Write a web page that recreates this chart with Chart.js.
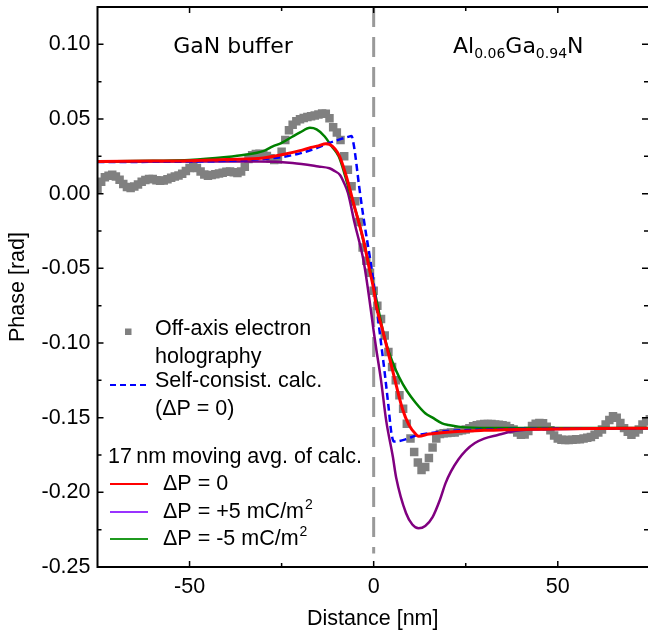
<!DOCTYPE html>
<html lang="en">
<head>
  <meta charset="UTF-8">
  <title>Phase profile across GaN buffer / AlGaN</title>
  <script src="https://cdn.jsdelivr.net/npm/chart.js"></script>
  <style>
    html, body { margin: 0; padding: 0; background: #fff; }
    #phaseChart { display: block; }
  </style>
</head>
<body>
  <canvas id="phaseChart" width="654" height="635"></canvas>
  <script>
    // Off-axis electron holography (measured)
    const holoX = [
      -75, -74, -73, -72, -71, -70, -69, -68, -67, -66,
      -65, -64, -63, -62, -61, -60, -59, -58, -57, -56,
      -55, -54, -53, -52, -51, -50, -49, -48, -47, -46,
      -45, -44, -43, -42, -41, -40, -39, -38, -37, -36,
      -35, -34, -33, -32, -31, -30, -29, -28, -27, -26,
      -25, -24, -23, -22, -21, -20, -19, -18, -17, -16,
      -15, -14, -13, -12, -11, -10, -9, -8, -7, -6,
      -5, -4, -3, -2, -1, 0, 1, 2, 3, 4,
      5, 6, 7, 8, 9, 10, 11, 12, 13, 14,
      15, 16, 17, 18, 19, 20, 21, 22, 23, 24,
      25, 26, 27, 28, 29, 30, 31, 32, 33, 34,
      35, 36, 37, 38, 39, 40, 41, 42, 43, 44,
      45, 46, 47, 48, 49, 50, 51, 52, 53, 54,
      55, 56, 57, 58, 59, 60, 61, 62, 63, 64,
      65, 66, 67, 68, 69, 70, 71, 72, 73, 74, 75
    ];
    const holoY = [
      0.003, 0.008, 0.011, 0.012, 0.0127, 0.0115, 0.0093, 0.0065, 0.0045, 0.0038,
      0.0048, 0.0062, 0.008, 0.0092, 0.0099, 0.0098, 0.009, 0.0087, 0.0088, 0.0097,
      0.0107, 0.0115, 0.0122, 0.0133, 0.0152, 0.0172, 0.0183, 0.0172, 0.0148, 0.0128,
      0.012, 0.0125, 0.013, 0.0135, 0.014, 0.0146, 0.0148, 0.0143, 0.0138, 0.0148,
      0.018, 0.0232, 0.0258, 0.0266, 0.0267, 0.0262, 0.0252, 0.0237, 0.0225, 0.0228,
      0.028, 0.036, 0.0425, 0.0462, 0.0485, 0.0498, 0.0507, 0.0513, 0.0518, 0.0524,
      0.053, 0.0537, 0.0535, 0.0505, 0.0445, 0.041, 0.036, 0.025, 0.016, 0.005,
      -0.005, -0.019, -0.036, -0.045, -0.053, -0.065, -0.075, -0.084, -0.095, -0.106,
      -0.116, -0.125, -0.135, -0.144, -0.154, -0.164, -0.173, -0.180, -0.185, -0.183,
      -0.177, -0.170, -0.164, -0.161, -0.1605, -0.1602, -0.160, -0.160, -0.159, -0.1585,
      -0.158, -0.157, -0.1558, -0.155, -0.1545, -0.1543, -0.1542, -0.1542, -0.1545, -0.1548,
      -0.155, -0.1555, -0.157, -0.158, -0.160, -0.1615, -0.1612, -0.159, -0.1555, -0.154,
      -0.1535, -0.1538, -0.156, -0.1585, -0.162, -0.164, -0.1648, -0.165, -0.165, -0.1648,
      -0.1645, -0.1645, -0.164, -0.1635, -0.163, -0.1615, -0.160, -0.158, -0.1545, -0.1515,
      -0.149, -0.150, -0.1535, -0.157, -0.1595, -0.1615, -0.160, -0.158, -0.1545, -0.1525, -0.151
    ];

    // Self-consistent calculation (dP = 0)
    const calcX = [-75, -50, -40, -30, -25, -20, -15, -12, -9, -7, -6, -5.5, -5, -4.5, -4, -3, -2, -1, 0, 1, 2, 3, 4, 4.8, 5.5, 8.7, 11.4, 15, 20, 30, 50, 75];
    const calcY = [0.0212, 0.0215, 0.022, 0.0232, 0.0245, 0.027, 0.031, 0.034, 0.0365, 0.038, 0.0386, 0.034, 0.026, 0.016, 0.006, -0.012, -0.028, -0.043, -0.060, -0.080, -0.100, -0.120, -0.142, -0.160, -0.166, -0.1645, -0.162, -0.1605, -0.159, -0.158, -0.1573, -0.157];

    // 17 nm moving average, dP = 0
    const avg0X = [-75, -60, -50, -40, -30, -25, -20, -17, -15, -13, -12, -10.5, -9.2, -7.4, -5.2, -2.8, -1.2, 0, 0.7, 2.5, 4.3, 6.1, 7.8, 9.6, 11.4, 12.2, 15, 20, 30, 43, 60, 75];
    const avg0Y = [0.0215, 0.0218, 0.022, 0.0228, 0.0239, 0.026, 0.0288, 0.031, 0.032, 0.0335, 0.033, 0.030, 0.0247, 0.0113, -0.0089, -0.0309, -0.050, -0.064, -0.075, -0.092, -0.110, -0.128, -0.144, -0.155, -0.161, -0.1625, -0.161, -0.1597, -0.1585, -0.1577, -0.1572, -0.157];

    // 17 nm moving average, dP = +5 mC/m2
    const avgPlusX = [-75, -50, -31, -22, -15, -12, -10.5, -9.2, -8, -7, -5.2, -2.8, -1.2, 0, 0.7, 2, 3.4, 5.2, 6.1, 8.8, 10.5, 12.2, 14, 16, 18, 19.5, 21, 23, 25, 27.5, 30, 33.7, 37.3, 43, 56, 75];
    const avgPlusY = [0.0213, 0.0215, 0.0215, 0.0205, 0.0182, 0.017, 0.015, 0.0127, 0.007, 0.0006, -0.0195, -0.0443, -0.070, -0.092, -0.104, -0.125, -0.152, -0.176, -0.19, -0.214, -0.2215, -0.224, -0.2225, -0.2166, -0.205, -0.194, -0.186, -0.178, -0.172, -0.167, -0.164, -0.1616, -0.1594, -0.158, -0.1575, -0.157];

    // 17 nm moving average, dP = -5 mC/m2
    const avgMinusX = [-75, -60, -50, -40, -35, -30, -27.4, -25, -22, -20, -17.3, -15.5, -13.3, -11.5, -9.5, -8, -6.5, -4.2, -2, 0, 1.5, 2.8, 5, 6.9, 9, 11.4, 14, 16, 18.6, 20.3, 23, 25, 33.7, 75];
    const avgMinusY = [0.0215, 0.022, 0.0225, 0.0245, 0.026, 0.0285, 0.0316, 0.034, 0.0383, 0.041, 0.0441, 0.043, 0.0383, 0.032, 0.025, 0.014, 0.001, -0.0175, -0.0396, -0.062, -0.080, -0.095, -0.112, -0.1228, -0.132, -0.140, -0.147, -0.150, -0.1538, -0.1549, -0.156, -0.1565, -0.157, -0.157];

    // interface marker
    const interfaceX = [0, 0];
    const interfaceY = [0.125, -0.241];

    const xTicks = [-50, 0, 50];
    const xMinor = [-25, 25];
    const yTicks = [-0.25, -0.20, -0.15, -0.10, -0.05, 0.00, 0.05, 0.10];
    const yMinor = [-0.225, -0.175, -0.125, -0.075, -0.025, 0.025, 0.075];

    const pts = (xs, ys) => xs.map((v, i) => ({ x: v, y: ys[i] }));

    const ARIAL = '"Liberation Sans", Arial, sans-serif';
    const DEJAVU = '"DejaVu Sans", Verdana, sans-serif';

    // axes frame, inward ticks, titles, region labels, legend
    const decor = {
      id: 'decor',
      afterDraw(chart) {
        const { ctx, chartArea: a, scales: { x, y } } = chart;
        ctx.save();
        ctx.strokeStyle = '#000';
        ctx.lineWidth = 2;
        ctx.beginPath();
        ctx.moveTo(a.right, a.top); ctx.lineTo(a.left, a.top);
        ctx.lineTo(a.left, a.bottom); ctx.lineTo(a.right, a.bottom);
        ctx.stroke();

        ctx.lineWidth = 1.5;
        ctx.beginPath();
        const xt = (v, len) => {
          const px = x.getPixelForValue(v);
          ctx.moveTo(px, a.bottom); ctx.lineTo(px, a.bottom - len);
          ctx.moveTo(px, a.top); ctx.lineTo(px, a.top + len);
        };
        const yt = (v, len) => {
          const py = y.getPixelForValue(v);
          ctx.moveTo(a.left, py); ctx.lineTo(a.left + len, py);
          ctx.moveTo(a.right, py); ctx.lineTo(a.right - len, py);
        };
        xTicks.forEach(v => xt(v, 6));
        xMinor.forEach(v => xt(v, 4));
        yTicks.forEach(v => yt(v, 6));
        yMinor.forEach(v => yt(v, 4));
        ctx.stroke();

        // axis titles
        ctx.fillStyle = '#000';
        ctx.font = '21.5px ' + ARIAL;
        ctx.textAlign = 'center';
        ctx.textBaseline = 'middle';
        ctx.fillText('Distance [nm]', (a.left + a.right) / 2, 619);
        ctx.save();
        ctx.translate(18, (a.top + a.bottom) / 2);
        ctx.rotate(-Math.PI / 2);
        ctx.fillText('Phase [rad]', 0, 0);
        ctx.restore();

        // region labels
        ctx.textBaseline = 'alphabetic';
        ctx.font = '22px ' + DEJAVU;
        ctx.fillText('GaN buffer', 233, 53);
        ctx.textAlign = 'left';
        let cx = 453;
        const part = (t, size, base) => {
          ctx.font = size + 'px ' + DEJAVU;
          ctx.fillText(t, cx, base);
          cx += ctx.measureText(t).width;
        };
        part('Al', 22, 53); part('0.06', 14, 58);
        part('Ga', 22, 53); part('0.94', 14, 58);
        part('N', 22, 53);

        // legend
        ctx.font = '21.5px ' + ARIAL;
        ctx.textBaseline = 'middle';
        ctx.fillStyle = '#808080';
        ctx.fillRect(125, 328.5, 6.5, 6.5);
        ctx.fillStyle = '#000';
        ctx.fillText('Off-axis electron', 155, 329);
        ctx.fillText('holography', 155, 357);
        ctx.fillText('Self-consist. calc.', 155, 381);
        ctx.fillText('(\u0394P = 0)', 155, 409);
        ctx.fillText('17\u2009nm moving avg. of calc.', 108, 457);

        ctx.lineWidth = 2;
        ctx.strokeStyle = '#0000ff';
        ctx.setLineDash([6, 4]);
        ctx.beginPath(); ctx.moveTo(110, 385); ctx.lineTo(146, 385); ctx.stroke();
        ctx.setLineDash([]);

        const item = (col, yy, txt, sup) => {
          ctx.strokeStyle = col;
          ctx.lineWidth = 2;
          ctx.beginPath(); ctx.moveTo(110, yy); ctx.lineTo(148, yy); ctx.stroke();
          ctx.font = '21.5px ' + ARIAL;
          ctx.fillStyle = '#000';
          ctx.fillText(txt, 163, yy);
          if (sup) {
            const w = ctx.measureText(txt).width;
            ctx.font = '14px ' + ARIAL;
            ctx.fillText(sup, 163 + w + 1, yy - 7);
          }
        };
        item('#ff0000', 484, '\u0394P = 0');
        item('#9933ff', 512, '\u0394P = +5 mC/m', '2');
        item('#1f9a1f', 539, '\u0394P = -5 mC/m', '2');
        ctx.restore();
      }
    };

    const ctx = document.getElementById('phaseChart').getContext('2d');
    const phaseChart = new Chart(ctx, {
      type: 'line',
      data: {
        datasets: [
          {
            label: '17 nm moving avg., dP = 0',
            data: pts(avg0X, avg0Y),
            borderColor: '#ff0000',
            borderWidth: 3,
            cubicInterpolationMode: 'monotone',
            pointRadius: 0,
            order: 1
          },
          {
            label: 'Self-consist. calc. (dP = 0)',
            data: pts(calcX, calcY),
            borderColor: '#0000ff',
            borderWidth: 2.5,
            borderDash: [7, 4],
            cubicInterpolationMode: 'monotone',
            pointRadius: 0,
            order: 2
          },
          {
            label: 'dP = -5 mC/m2',
            data: pts(avgMinusX, avgMinusY),
            borderColor: '#008000',
            borderWidth: 2.5,
            cubicInterpolationMode: 'monotone',
            pointRadius: 0,
            order: 3
          },
          {
            label: 'dP = +5 mC/m2',
            data: pts(avgPlusX, avgPlusY),
            borderColor: '#800080',
            borderWidth: 2.5,
            cubicInterpolationMode: 'monotone',
            pointRadius: 0,
            order: 4
          },
          {
            label: 'Off-axis electron holography',
            data: pts(holoX, holoY),
            showLine: false,
            pointStyle: 'rect',
            radius: 6,
            pointRadius: 6,
            borderWidth: 0,
            pointBorderWidth: 0,
            backgroundColor: '#808080',
            pointBackgroundColor: '#808080',
            order: 8
          },
          {
            label: 'interface',
            data: pts(interfaceX, interfaceY),
            borderColor: '#999999',
            borderWidth: 3,
            borderDash: [20, 10],
            tension: 0,
            pointRadius: 0,
            order: 9
          }
        ]
      },
      options: {
        responsive: false,
        animation: false,
        events: [],
        layout: { padding: { top: 7, right: 0, left: 0, bottom: 0 } },
        plugins: {
          legend: { display: false },
          tooltip: { enabled: false }
        },
        scales: {
          x: {
            type: 'linear',
            min: -75,
            max: 74.5,
            grid: { display: false, drawTicks: false },
            border: { display: false },
            afterBuildTicks: s => { s.ticks = xTicks.map(v => ({ value: v })); },
            afterFit: s => { s.height = 68; s.paddingLeft = 0; s.paddingRight = 0; },
            ticks: {
              color: '#000',
              padding: 7,
              maxRotation: 0,
              font: { family: ARIAL, size: 21.5 },
              callback: v => String(v)
            }
          },
          y: {
            type: 'linear',
            min: -0.25,
            max: 0.125,
            grid: { display: false, drawTicks: false },
            border: { display: false },
            afterBuildTicks: s => { s.ticks = yTicks.map(v => ({ value: v })); },
            afterFit: s => { s.width = 97.5; s.paddingTop = 0; s.paddingBottom = 0; },
            ticks: {
              color: '#000',
              padding: 7,
              font: { family: ARIAL, size: 21.5 },
              callback: v => v.toFixed(2)
            }
          }
        }
      },
      plugins: [decor]
    });
  </script>
</body>
</html>
